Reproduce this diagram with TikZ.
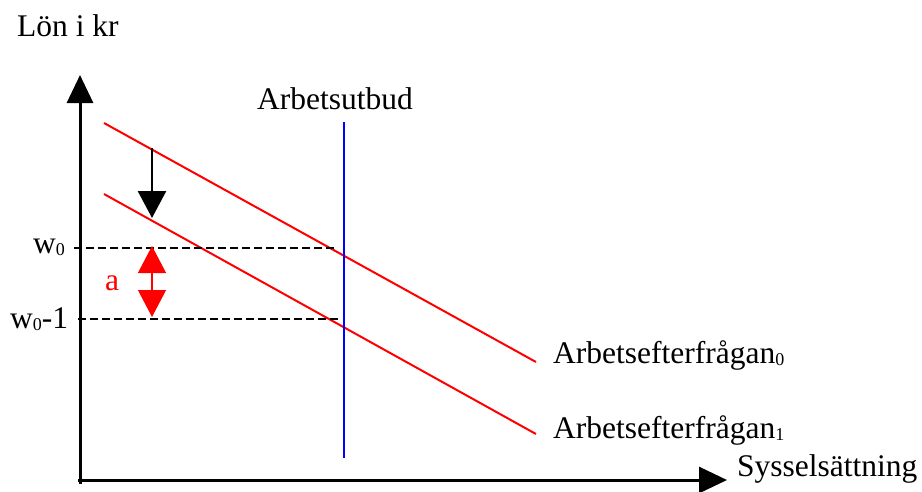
\documentclass[tikz,border=0pt]{standalone}
\usepackage{fontspec}
\setmainfont{Liberation Serif}
\usetikzlibrary{arrows.meta}
\newcommand{\mysub}[1]{\raisebox{-2pt}{\fontsize{18}{18}\selectfont #1}}
\begin{document}
\begin{tikzpicture}[x=1pt,y=-1pt,
  lbl/.style={inner sep=0pt, font=\fontsize{31.5}{36}\selectfont},
  axisline/.style={line width=3pt, -{Triangle[length=28pt,width=26pt]}},
  demand/.style={draw=red, line width=2pt},
  guide/.style={line width=2.6pt, dash pattern=on 8pt off 4pt},
  shift arrow/.style={line width=2.6pt, -{Triangle[length=27pt,width=28pt]}},
  gap arrow/.style={red, line width=1.2pt, {Triangle[length=27pt,width=28pt]}-{Triangle[length=27pt,width=28pt]}}]
\useasboundingbox (0,0) rectangle (922,491);
% axes
\coordinate (ybot) at (80,484);
\coordinate (ytop) at (80,75);
\coordinate (xleft) at (78,480);
\coordinate (xright) at (727,480);
\draw[axisline] (ybot) -- (ytop);
\draw[axisline] (xleft) -- (xright);
% demand curves
\coordinate (d0a) at (104,123);
\coordinate (d0b) at (536,362);
\coordinate (d1a) at (104,194);
\coordinate (d1b) at (536,434);
\draw[demand] (d0a) -- (d0b);
\draw[demand] (d1a) -- (d1b);
% supply
\coordinate (sa) at (344,122);
\coordinate (sb) at (344,458);
\draw[blue, line width=2.4pt] (sa) -- (sb);
% dashed guides
\coordinate (g0a) at (74,248);
\coordinate (g0b) at (337,248);
\coordinate (g1a) at (78,319);
\coordinate (g1b) at (339,319);
\draw[guide] (g0a) -- (g0b);
\draw[guide] (g1a) -- (g1b);
% shift arrow
\coordinate (sh0) at (152,148);
\coordinate (sh1) at (152,218);
\draw[shift arrow] (sh0) -- (sh1);
% gap arrow
\coordinate (ga) at (152,246);
\coordinate (gb) at (152,317);
\draw[gap arrow] (ga) -- (gb);
% labels
\node[lbl, anchor=base west] (ylab) at (17,36) {Lön i kr};
\node[lbl, anchor=base] (slab) at (335,109) {Arbetsutbud};
\node[lbl, anchor=base west] (w0) at (33,253) {w\mysub{0}};
\node[lbl, anchor=base west] (w1) at (10,328) {w\mysub{0}-1};
\node[lbl, anchor=base west, text=red] (alab) at (105,290) {a};
\node[lbl, anchor=base west] (d0lab) at (553,363) {Arbetsefterfrågan\mysub{0}};
\node[lbl, anchor=base west] (d1lab) at (553,438) {Arbetsefterfrågan\mysub{1}};
\node[lbl, anchor=base west] (xlab) at (737,476) {Sysselsättning};
\end{tikzpicture}
\end{document}
